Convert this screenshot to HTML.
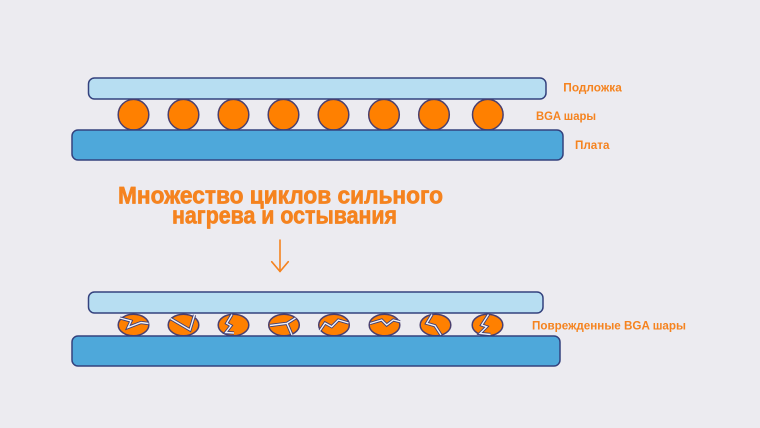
<!DOCTYPE html>
<html>
<head>
<meta charset="utf-8">
<style>
html,body{margin:0;padding:0;background:#ecebf0;}
svg{display:block;}
text{font-family:"Liberation Sans","DejaVu Sans",sans-serif;font-weight:bold;fill:#f5831f;}
.t{stroke:#f5831f;stroke-width:0.7;stroke-linejoin:round;}
</style>
</head>
<body>
<svg width="760" height="428" viewBox="0 0 760 428" xmlns="http://www.w3.org/2000/svg">
<rect x="0" y="0" width="760" height="428" fill="#ecebf0"/>

<!-- TOP ASSEMBLY -->
<rect x="88.5" y="78" width="457.5" height="21" rx="6" fill="#b7def2" stroke="#34427e" stroke-width="1.5"/>
<g fill="#ff8000" stroke="#4a3f6e" stroke-width="1.5">
<circle cx="133.5" cy="114.7" r="15.3"/>
<circle cx="183.5" cy="114.7" r="15.3"/>
<circle cx="233.5" cy="114.7" r="15.3"/>
<circle cx="283.5" cy="114.7" r="15.3"/>
<circle cx="333.5" cy="114.7" r="15.3"/>
<circle cx="384" cy="114.7" r="15.3"/>
<circle cx="434" cy="114.7" r="15.3"/>
<circle cx="487.8" cy="114.7" r="15.3"/>
</g>
<rect x="72" y="130" width="491" height="30" rx="6" fill="#4ea8da" stroke="#34427e" stroke-width="1.5"/>

<text x="563.3" y="91.7" font-size="11.5" textLength="58.5" lengthAdjust="spacingAndGlyphs">Подложка</text>
<text x="536" y="120" font-size="11.5" textLength="60" lengthAdjust="spacingAndGlyphs">BGA шары</text>
<text x="575" y="149" font-size="11.5" textLength="34.5" lengthAdjust="spacingAndGlyphs">Плата</text>

<!-- TITLE -->
<text class="t" x="118" y="203.3" font-size="24" textLength="325" lengthAdjust="spacingAndGlyphs">Множество циклов сильного</text>
<text class="t" x="172" y="223.3" font-size="24" textLength="225" lengthAdjust="spacingAndGlyphs">нагрева и остывания</text>

<!-- ARROW -->
<g stroke="#f5831f" stroke-width="1.6" fill="none" stroke-linecap="round" stroke-linejoin="round">
<line x1="280" y1="240" x2="280" y2="271.5"/>
<polyline points="271.7,261.7 280,271.5 288.3,261.7"/>
</g>

<!-- BOTTOM ASSEMBLY -->
<rect x="88.5" y="292" width="454.5" height="21" rx="6" fill="#b7def2" stroke="#34427e" stroke-width="1.5"/>
<g fill="#ff8000" stroke="#4a3f6e" stroke-width="1.5">
<ellipse cx="133.5" cy="325" rx="15.3" ry="10.8"/>
<ellipse cx="183.5" cy="325" rx="15.3" ry="10.8"/>
<ellipse cx="233.5" cy="325" rx="15.3" ry="10.8"/>
<ellipse cx="284" cy="325" rx="15.3" ry="10.8"/>
<ellipse cx="334" cy="325" rx="15.3" ry="10.8"/>
<ellipse cx="384.5" cy="325" rx="15.3" ry="10.8"/>
<ellipse cx="435.5" cy="325" rx="15.3" ry="10.8"/>
<ellipse cx="487.5" cy="325" rx="15.3" ry="10.8"/>
</g>
<!-- cracks: dark outline -->
<g fill="none" stroke="#3d3f78" stroke-width="3.2" stroke-linejoin="miter" stroke-linecap="butt">
<polyline points="120,318 131,321 128,327.5 141,322.5 148.5,323.5"/>
<polyline points="170.5,318.5 190,330 194.5,315"/>
<polyline points="232,314.5 226.7,323.3 231,325.7 225.7,332.5 234,333"/>
<polyline points="270,325.5 287,323.3 295.5,318"/>
<polyline points="287,323.3 292,335"/>
<polyline points="320,330.5 325,323 331.7,326.7 338.3,320 348.5,323"/>
<polyline points="370,323.5 381.7,320 386.7,325 393.3,320 400,321.7"/>
<polyline points="432,314.5 426.7,323.3 435,325.7 441,335"/>
<polyline points="488.5,314.5 481.7,325 486.7,326.7 480,333.5 490.5,334.5"/>
</g>
<g fill="none" stroke="#f2f2f7" stroke-width="1.4" stroke-linejoin="miter" stroke-linecap="butt">
<polyline points="120,318 131,321 128,327.5 141,322.5 148.5,323.5"/>
<polyline points="170.5,318.5 190,330 194.5,315"/>
<polyline points="232,314.5 226.7,323.3 231,325.7 225.7,332.5 234,333"/>
<polyline points="270,325.5 287,323.3 295.5,318"/>
<polyline points="287,323.3 292,335"/>
<polyline points="320,330.5 325,323 331.7,326.7 338.3,320 348.5,323"/>
<polyline points="370,323.5 381.7,320 386.7,325 393.3,320 400,321.7"/>
<polyline points="432,314.5 426.7,323.3 435,325.7 441,335"/>
<polyline points="488.5,314.5 481.7,325 486.7,326.7 480,333.5 490.5,334.5"/>
</g>
<rect x="72" y="336" width="488" height="30" rx="6" fill="#4ea8da" stroke="#34427e" stroke-width="1.5"/>

<text x="532" y="329.5" font-size="11.5" textLength="154" lengthAdjust="spacingAndGlyphs">Поврежденные BGA шары</text>
</svg>
</body>
</html>
